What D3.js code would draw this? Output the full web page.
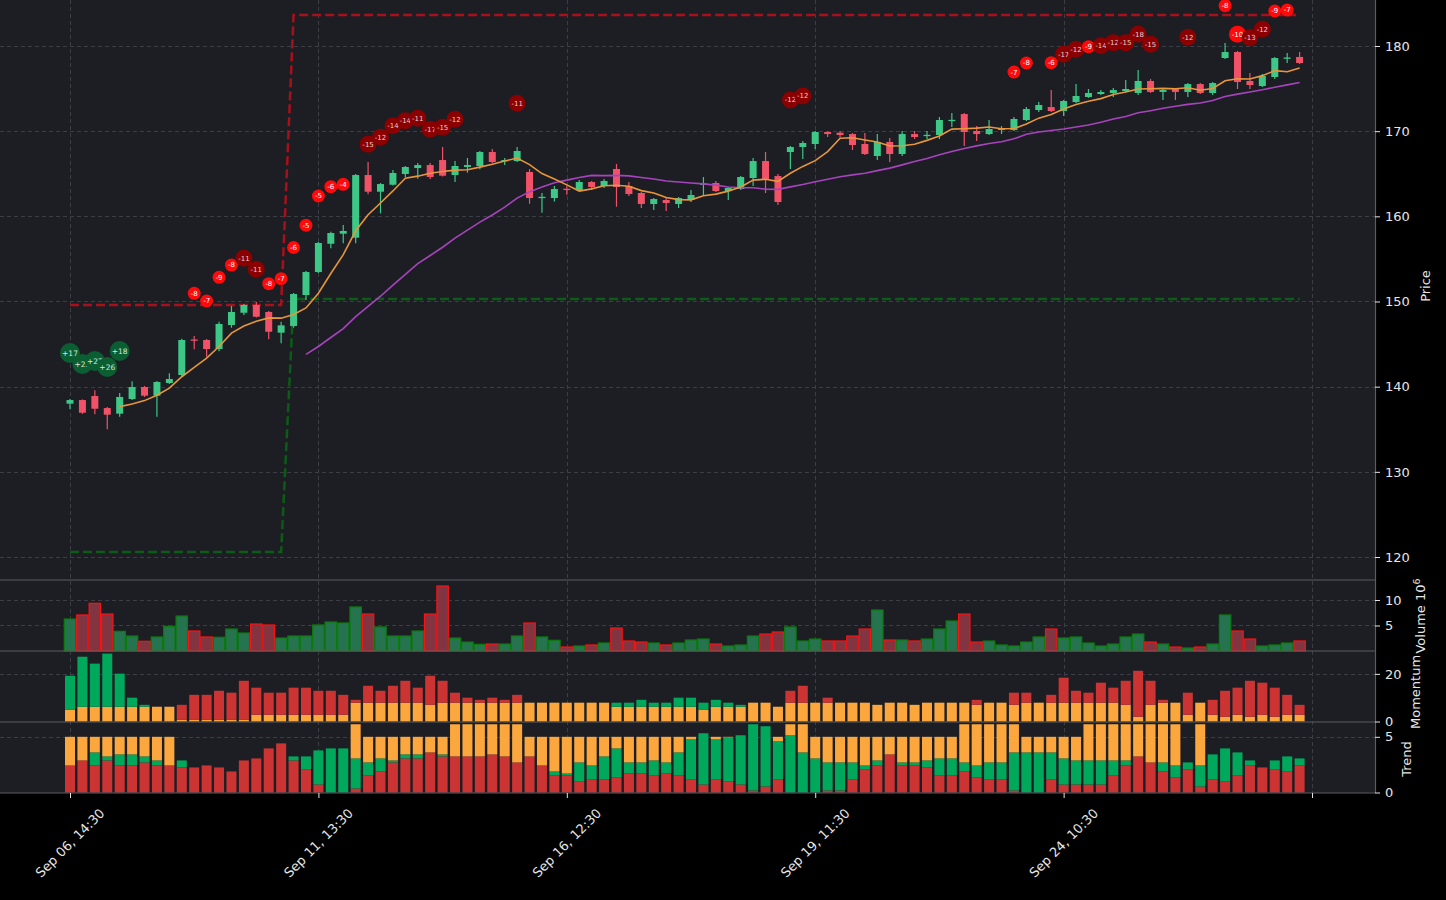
<!DOCTYPE html>
<html><head><meta charset="utf-8">
<script src="https://cdn.jsdelivr.net/npm/d3@7"></script>
<style>html,body{margin:0;padding:0;background:#000;}svg{display:block;}</style>
</head><body>
<script>
// ---------------- DATA ----------------
const openP = [138.0,138.43,138.9,137.49,136.83,138.55,139.96,138.94,140.43,141.37,
145.54,145.48,144.42,147.24,148.68,149.59,148.77,146.34,147.12,150.76,
153.46,156.78,157.96,157.49,164.85,162.89,163.71,164.97,165.67,166.02,
166.61,164.85,165.79,165.91,167.55,166.46,166.49,165.2,162.17,162.15,
163.24,163.09,164.03,163.56,165.56,163.56,162.74,161.45,161.92,161.45,
161.92,163.74,163.91,162.97,163.21,164.5,166.49,164.73,167.55,168.14,
168.49,169.9,169.82,169.66,168.49,167.08,168.73,167.32,169.66,169.49,
169.55,171.25,172.01,170.02,169.66,170.19,170.13,171.31,172.48,172.83,
172.36,173.42,174.01,174.36,174.48,174.71,174.48,175.89,174.6,174.95,
174.6,175.53,174.48,178.59,179.29,175.89,175.3,176.36,178.53,178.71];
const closeP = [138.43,136.94,137.41,136.71,138.79,139.96,138.94,140.55,140.9,145.48,
145.42,144.42,147.36,148.77,149.59,148.21,146.45,147.2,150.88,153.46,
156.87,158.04,158.28,164.85,162.89,163.79,165.09,165.79,166.02,164.62,
164.77,165.91,166.02,167.55,166.38,166.61,167.67,162.15,162.29,163.21,
163.15,164.03,163.44,164.15,163.44,162.62,161.45,162.03,161.56,162.15,
162.5,163.85,162.97,163.33,164.62,166.49,164.38,161.68,168.14,168.61,
169.9,169.66,169.55,168.37,167.32,168.73,167.32,169.66,169.31,169.57,
171.31,171.33,169.9,169.66,170.25,170.29,171.43,172.6,173.07,172.36,
173.54,174.13,174.48,174.6,174.83,174.95,175.89,174.6,174.83,174.6,
175.53,174.48,175.65,179.29,175.77,175.42,176.47,178.59,178.65,178.0];
const highP = [138.55,138.5,139.57,137.6,139.26,140.63,140.08,140.66,141.57,145.63,
145.95,145.6,147.63,149.47,149.7,149.98,148.88,147.63,151.0,153.58,
156.98,158.19,158.98,164.97,166.38,163.91,165.44,165.91,166.26,166.26,
168.14,166.49,166.85,167.67,167.9,166.85,168.14,165.55,162.74,163.56,
163.56,164.26,164.15,164.38,166.14,164.03,162.85,162.15,162.27,162.27,
163.09,164.62,164.15,163.44,164.73,166.85,167.55,164.97,168.26,168.84,
170.02,169.96,170.02,169.78,169.78,169.66,169.2,170.02,170.02,170.02,
171.66,172.13,172.13,170.6,171.31,170.6,171.66,172.83,173.42,174.83,
173.66,175.53,174.95,174.83,175.07,176.0,177.18,176.12,175.07,175.07,
175.65,175.65,175.77,180.35,179.41,176.83,176.71,178.71,179.17,179.29];
const lowP = [137.38,136.8,136.75,134.99,136.47,138.43,138.79,136.47,140.31,141.25,
144.39,143.52,144.15,146.92,148.41,148.12,145.56,145.09,146.92,150.17,
153.35,156.24,156.83,156.83,162.58,160.35,163.62,164.58,164.42,164.38,
164.67,164.03,165.12,165.52,166.26,166.02,166.38,161.48,160.42,161.74,
162.54,163.03,163.09,163.33,161.13,162.39,160.98,160.74,160.62,160.98,
161.68,162.5,162.85,161.92,163.09,163.56,162.74,161.33,165.56,166.73,
167.9,169.31,169.28,167.79,167.2,166.61,166.38,167.08,169.08,169.08,
169.08,170.49,168.26,168.84,169.55,169.66,170.02,171.19,172.25,172.25,
171.78,173.3,173.9,174.25,174.01,174.6,174.25,174.48,173.66,173.66,
174.01,174.36,174.25,178.47,174.95,174.95,175.18,176.12,178.0,177.88];
const volume = [6.27,7.06,9.35,7.25,3.86,2.94,1.9,2.75,4.84,6.86,
3.92,2.75,2.69,4.31,3.53,5.29,5.1,2.55,2.94,2.94,
5.1,5.69,5.49,8.63,7.25,4.71,2.94,2.94,3.92,7.25,
12.75,2.55,1.76,1.31,1.37,1.37,2.94,5.49,2.75,2.1,
0.78,0.98,1.18,1.57,4.51,1.96,1.76,1.57,1.18,1.57,
2.16,2.35,1.37,0.98,1.18,2.94,3.33,3.73,4.71,1.96,
2.35,1.96,1.96,2.94,4.31,8.04,2.16,2.16,1.96,2.35,
4.31,5.88,7.25,1.76,1.96,1.18,0.98,1.76,2.75,4.31,
2.55,2.75,1.57,0.98,1.37,2.75,3.33,1.76,1.37,0.78,
0.59,0.78,1.37,7.06,3.92,2.35,0.98,1.18,1.57,1.96];
const momNeutral = [4.9,6.2,6.2,6.2,6.2,6.2,6.2,6.2,6.2,0.7,
0.7,0.7,0.7,0.7,0.7,2.8,2.8,2.8,2.8,2.8,
2.8,2.8,2.8,7.9,7.9,7.9,7.9,7.9,7.9,7.0,
7.9,7.9,7.9,7.9,7.9,7.9,7.9,7.9,7.9,7.9,
7.9,7.9,7.9,7.9,6.2,6.2,6.2,6.2,6.2,6.2,
6.2,4.9,6.2,6.2,6.2,7.9,7.9,6.2,7.9,7.9,
7.9,7.9,7.9,7.9,7.9,7.0,7.9,7.9,7.0,7.9,
7.9,7.9,7.9,7.0,7.9,7.9,7.0,7.9,7.9,7.9,
7.9,7.9,7.9,7.9,7.9,7.0,2.0,7.0,7.9,7.9,
2.8,7.9,2.8,2.0,2.8,2.0,2.8,2.0,2.8,2.8];
const momBull = [14.3,21.0,18.1,22.3,13.9,3.8,0.8,0,0,0,
0,0,0,0,0,0,0,0,0,0,
0,0,0,0,0,0,0,0,0,0,
0,0,0,0,0,0,0,0,0,0,
0,0,0,0,1.7,1.7,2.9,1.7,1.7,3.8,
3.8,3.0,2.9,1.7,0.8,0,0,0,0,0,
0,0,0,0,0,0,0,0,0,0,
0,0,0,0,0,0,0,0,0,0,
0,0,0,0,0,0,0,0,0,0,
0,0,0,0,0,0,0,0,0,0];
const momBear = [0,0,0,0,0,0,0,0,0,6.3,
10.5,10.5,12.2,11.4,16.4,11.4,9.3,9.3,11.4,11.4,
10.1,10.1,8.4,1.2,7.1,5.0,7.1,9.2,6.3,12.2,
9.2,4.2,2.1,1.2,2.1,1.2,3.3,0,0,0,
0,0,0,0,0,0,0,0,0,0,
0,0,0,0,0,0,0,0,5.0,7.1,
0,2.1,0,0,0,0,0,0,0,0,
0,0,0,2.1,0,0,5.1,4.2,0,3.3,
10.5,5.0,4.2,8.4,6.3,10.1,19.3,10.1,1.2,0,
9.3,0,6.3,10.9,11.4,15.1,13.5,12.2,8.4,4.2];
const trendBear = [2.43,2.88,2.43,2.88,2.43,2.43,2.7,2.43,2.43,2.25,
2.25,2.43,2.25,1.89,2.88,3.06,3.96,4.41,2.88,2.07,
0.72,0,0,0.36,1.53,1.89,2.7,3.06,3.06,3.6,
3.24,3.24,3.24,3.24,3.42,3.24,2.7,3.24,2.43,1.53,
1.53,0.99,1.17,1.17,1.35,1.71,1.71,1.53,1.71,1.53,
1.17,0.72,1.17,0.99,0.72,0.18,0.54,1.17,0,0,
0,0.18,0.18,1.17,2.07,2.43,3.42,2.43,2.43,2.25,
1.53,1.53,1.89,1.35,1.17,1.17,0.18,0,0,1.17,
0.72,0.72,0.72,0.72,1.53,2.43,3.24,2.7,1.89,1.35,
2.07,0.54,1.17,0.99,1.53,2.43,2.25,2.07,1.89,2.43];
const trendBull = [0,0,1.17,0.36,0.99,0.99,0.54,0.45,0,0.63,
0,0,0,0,0,0,0,0,0.36,1.17,
3.06,3.96,3.96,2.7,1.17,1.17,0.18,0.36,0.36,0,
0.18,0,0,0,0,0,0,0,0,0.36,
0.18,1.71,1.26,2.07,2.61,0.99,0.99,1.35,0.99,2.07,
3.6,4.6,3.6,3.96,4.42,5.95,5.41,3.43,5.14,3.6,
3.06,2.52,2.52,1.53,0.36,0.45,0,0.27,0.27,0.63,
1.53,1.53,0.81,1.08,1.53,1.53,3.42,3.6,3.6,2.43,
2.34,2.16,2.16,2.16,1.35,0.45,0,0,0.81,1.08,
0.63,1.89,2.25,2.97,2.07,0.45,0,0.81,1.35,0.63];
const trendNeutral = [2.57,2.12,1.4,1.76,1.58,1.58,1.76,2.12,2.57,0,
0,0,0,0,0,0,0,0,0,0,
0,0,0,3.07,2.3,1.94,2.12,1.58,1.58,1.4,
1.58,2.89,2.89,2.89,2.71,2.89,3.43,1.76,2.57,3.11,
3.29,2.3,2.57,1.76,1.04,2.3,2.3,2.12,2.3,1.4,
0.23,0,0.23,0.05,0,0,0,0.4,0.99,2.53,
1.94,2.3,2.3,2.3,2.57,2.12,1.58,2.3,2.3,2.12,
1.94,1.94,3.43,3.7,3.43,3.43,2.53,1.4,1.4,1.4,
1.94,2.12,3.25,3.25,3.25,3.25,2.89,3.43,3.43,3.7,
0,3.7,0,0,0,0,0,0,0,0];
// signal markers: [candle index, price level, score]
const signals = [[0,143.95,17],[1,142.66,22],[2,143.01,27],[3,142.31,26],[4,144.19,18],
[10,150.96,-8],[11,150.06,-7],[12,152.84,-9],[13,154.28,-8],[14,155.07,-11],[15,153.78,-11],
[16,152.09,-8],[17,152.68,-7],[18,156.34,-6],[19,158.95,-5],[20,162.39,-5],[21,163.48,-6],
[22,163.76,-4],[24,168.46,-15],[25,169.28,-12],[26,170.64,-14],[27,171.23,-14],[28,171.51,-11],
[29,170.22,-17],[30,170.45,-15],[31,171.39,-12],[36,173.27,-11],[58,173.66,-12],[59,174.13,-12],
[76,176.94,-7],[77,178.0,-8],[79,178.04,-6],[80,179.02,-17],[81,179.61,-12],[82,179.91,-9],
[83,180.03,-14],[84,180.38,-12],[85,180.38,-15],[86,181.37,-18],[87,180.2,-15],[90,181.02,-12],
[93,184.73,-8],[94,181.37,-10],[95,180.97,-13],[96,181.96,-12],[97,184.11,-9],[98,184.22,-7]];
// resistance / support step lines: [index, price]
const resistance = [[0,149.59],[17,149.59],[18,183.64],[99,183.64]];
const support = [[0,120.59],[17,120.59],[18,150.3],[99,150.3]];
const xTickIdx = [0,20,40,60,80,100];
const xTickLabels = ["Sep 06, 14:30","Sep 11, 13:30","Sep 16, 12:30","Sep 19, 11:30","Sep 24, 10:30",""];
const priceTicks = [120,130,140,150,160,170,180];
const volTicks = [5,10];
const momTicks = [0,20];
const trendTicks = [0,5];

// ---------------- CHART ----------------
const W = 1446, H = 900, R = 1375;
const P = {price:[0,580], vol:[580,651], mom:[651,722], trend:[722,793]};
const BG = "#1c1e23", GRID = "#3b3e44", AX = "#e6e6e6";
const svg = d3.select("body").append("svg").attr("width",W).attr("height",H)
  .style("font-family","DejaVu Sans, sans-serif");
svg.append("rect").attr("width",W).attr("height",H).attr("fill","#000");

const n = closeP.length;
const idx = d3.range(n);
const x = d3.scaleLinear().domain([-5.636,105.07]).range([0,R]);
const step = x(1)-x(0);
const yP = d3.scaleLinear().domain([117.3,185.4]).range([580,0]);
const yV = d3.scaleLinear().domain([0,13.92]).range([651,580]);
const yM = d3.scaleLinear().domain([0,29.6]).range([721.5,651]);
const yT = d3.scaleLinear().domain([0,6.33]).range([792.5,722]);

Object.values(P).forEach(([a,b])=>{
  svg.append("rect").attr("x",0).attr("y",a).attr("width",R).attr("height",b-a).attr("fill",BG);
});

// grid
const grid = svg.append("g").attr("stroke",GRID).attr("stroke-width",1).attr("stroke-dasharray","4,3");
xTickIdx.forEach(i=>grid.append("line").attr("x1",Math.round(x(i))+0.5).attr("x2",Math.round(x(i))+0.5).attr("y1",0).attr("y2",793));
function hgrid(scale,ticks){ticks.forEach(t=>grid.append("line").attr("x1",0).attr("x2",R).attr("y1",Math.round(scale(t))+0.5).attr("y2",Math.round(scale(t))+0.5));}
hgrid(yP,priceTicks); hgrid(yV,volTicks); hgrid(yM,[20]); hgrid(yT,[5]);

// clip for price panel
svg.append("clipPath").attr("id","cp").append("rect").attr("x",0).attr("y",0).attr("width",R).attr("height",580);
const gp = svg.append("g").attr("clip-path","url(#cp)");

// resistance/support
const stepLine = d3.line().x(d=>x(d[0])).y(d=>yP(d[1]));
gp.append("path").attr("d",stepLine(resistance)).attr("fill","none").attr("stroke","#a8101c")
  .attr("stroke-width",2.5).attr("stroke-dasharray","9,4");
gp.append("path").attr("d",stepLine(support)).attr("fill","none").attr("stroke","#0b5c16")
  .attr("stroke-width",2.5).attr("stroke-dasharray","9,4");

// candles
const UP="#3dc887", DN="#f25268";
const cg = gp.append("g");
idx.forEach(i=>{
  const up = closeP[i]>=openP[i];
  const c = up?UP:DN;
  const cx = x(i);
  cg.append("line").attr("x1",cx).attr("x2",cx).attr("y1",yP(highP[i])).attr("y2",yP(lowP[i]))
    .attr("stroke",c).attr("stroke-width",1.2);
  const top = yP(Math.max(openP[i],closeP[i])), bot = yP(Math.min(openP[i],closeP[i]));
  cg.append("rect").attr("x",cx-3.5).attr("width",7).attr("y",top).attr("height",Math.max(1.3,bot-top)).attr("fill",c);
});

// moving averages (derived from closes)
function sma(p){return idx.map(i=> i>=p-1 ? d3.mean(closeP.slice(i-p+1,i+1)) : null);}
const ma5 = sma(5), ma20 = sma(20);
const ln = d3.line().defined(d=>d[1]!=null).x(d=>x(d[0])).y(d=>yP(d[1]));
gp.append("path").attr("d",ln(idx.map(i=>[i,ma20[i]]))).attr("fill","none").attr("stroke","#a843be").attr("stroke-width",1.6);
gp.append("path").attr("d",ln(idx.map(i=>[i,ma5[i]]))).attr("fill","none").attr("stroke","#e8953c").attr("stroke-width",1.6);

// signal markers
const sg = gp.append("g");
signals.forEach(([i,p,v])=>{
  const a = Math.abs(v);
  const fill = v>0 ? "#0b5e31" : (a>10 ? "#8b0000" : "#ff0a0a");
  const r = v>0 ? 10 : (a>=10 ? 8.5 : 6.5);
  sg.append("circle").attr("cx",x(i)).attr("cy",yP(p)).attr("r",r).attr("fill",fill);
  sg.append("text").attr("x",x(i)).attr("y",yP(p)).attr("dy","0.35em").attr("text-anchor","middle")
    .attr("font-size", v>0?7.5:7).attr("fill", v>0?"#d8e8dc":(a>10?"#e6d0d0":"#fff"))
    .text((v>0?"+":"")+v);
});

// volume
const vg = svg.append("g");
idx.forEach(i=>{
  const up = closeP[i]>=openP[i];
  vg.append("rect").attr("x",x(i)-step/2+0.5).attr("width",step-1).attr("y",yV(volume[i])).attr("height",yV(0)-yV(volume[i]))
    .attr("fill",up?"#267350":"#823440").attr("stroke",up?"#0a7d0a":"#ff1010").attr("stroke-width",1.2);
});

// stacked bars
function stacked(scale, series, colors){
  const g = svg.append("g");
  idx.forEach(i=>{
    let acc=0;
    series.forEach((s,k)=>{
      const v=s[i]; if(!v) return;
      g.append("rect").attr("x",x(i)-5).attr("width",10).attr("y",scale(acc+v)).attr("height",scale(acc)-scale(acc+v)).attr("fill",colors[k]);
      acc+=v;
    });
  });
}
const ORANGE="#fba73d", GREEN="#00a85c", RED="#cc3434";
stacked(yM,[momNeutral,momBull,momBear],[ORANGE,GREEN,RED]);
stacked(yT,[trendBear,trendBull,trendNeutral],[RED,GREEN,ORANGE]);

// panel borders
const bd = svg.append("g").attr("stroke","#5a5d63").attr("stroke-width",1.2);
[580,651,722,793].forEach(y=>bd.append("line").attr("x1",0).attr("x2",R).attr("y1",y).attr("y2",y));
bd.append("line").attr("x1",R+0.5).attr("x2",R+0.5).attr("y1",0).attr("y2",793);

// right axes
function rAxis(scale,ticks){
  const g = svg.append("g").attr("transform",`translate(${R},0)`)
    .call(d3.axisRight(scale).tickValues(ticks).tickSize(5).tickPadding(5).tickFormat(d3.format("d")));
  g.select(".domain").remove();
  g.selectAll("line").attr("stroke",AX);
  g.selectAll("text").attr("fill",AX).attr("font-size",13).attr("font-family","DejaVu Sans, sans-serif");
}
rAxis(yP,priceTicks); rAxis(yV,volTicks); rAxis(yM,momTicks); rAxis(yT,trendTicks);

// bottom axis
const xg = svg.append("g").attr("transform","translate(0,793)")
  .call(d3.axisBottom(x).tickValues(xTickIdx).tickSize(5).tickFormat(""));
xg.select(".domain").remove();
xg.selectAll("line").attr("stroke",AX);
xTickIdx.forEach((i,k)=>{
  svg.append("text").attr("transform",`translate(${x(i)},843) rotate(-45)`).attr("text-anchor","middle")
    .attr("dy","0.35em").attr("font-size",13).attr("fill",AX).text(xTickLabels[k]);
});

// axis titles
function title(tx,ty,txt){
  return svg.append("text").attr("transform",`translate(${tx},${ty}) rotate(-90)`).attr("text-anchor","middle")
    .attr("font-size",13).attr("fill",AX).text(txt);
}
title(1430,286,"Price");
const vt = title(1425,616,"Volume  10");
vt.append("tspan").attr("dy",-5).attr("font-size",9.5).text("6");
title(1420,692,"Momentum");
title(1411,759,"Trend");
</script>
</body></html>
